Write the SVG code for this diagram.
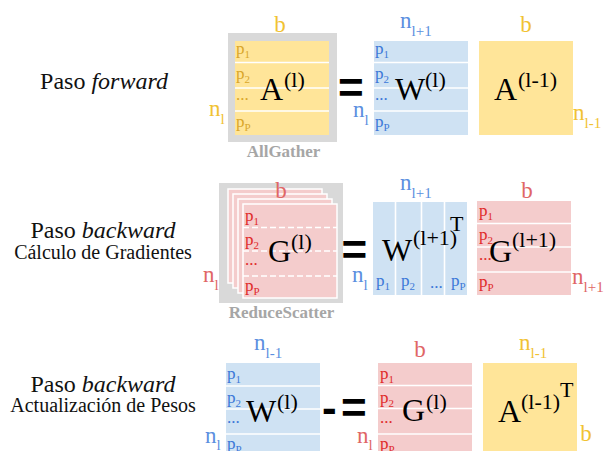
<svg xmlns="http://www.w3.org/2000/svg" width="606" height="451" viewBox="0 0 606 451">
<style>
text{font-family:"Liberation Serif","DejaVu Serif",serif;}
.ttl{font-size:24px;fill:#111;text-anchor:middle;}
.sub{font-size:20px;fill:#111;text-anchor:middle;}
.big{font-size:32px;fill:#000;}
.sup{font-size:22px;fill:#000;}
.lab{font-size:23px;}
.sb{font-size:15px;}
.p{font-size:17px;}
.ps{font-size:11px;}
.op{font-family:"Liberation Sans",Arial,sans-serif;font-weight:bold;font-size:44px;fill:#000;}
.coll{font-weight:bold;font-size:17px;fill:#a6a6a6;text-anchor:middle;}
.yl{fill:#f1c232;} .yp{fill:#d9a62a;}
.bl{fill:#5b8fe0;} .bp{fill:#3c78d8;}
.rl{fill:#e06666;} .rp{fill:#e02a2a;}
.fy{fill:#ffe599;} .fb{fill:#cfe2f3;} .fr{fill:#f4cccc;}
.frame{fill:#d9d9d9;}
.wl{stroke:#fff;stroke-width:1.6;fill:none;}
.wd{stroke:#fff;stroke-width:1.6;fill:none;stroke-dasharray:6 3;}
.sheet{fill:#f4cccc;stroke:#fff;stroke-width:1.5;}
</style>

<g id="labels">
<text class="ttl" x="104" y="89">Paso <tspan font-style="italic">forward</tspan></text>
<text class="ttl" x="103" y="238">Paso <tspan font-style="italic">backward</tspan></text>
<text class="sub" x="103" y="259">Cálculo de Gradientes</text>
<text class="ttl" x="103" y="392">Paso <tspan font-style="italic">backward</tspan></text>
<text class="sub" x="103" y="412">Actualización de Pesos</text>
</g>

<g id="connectors"></g>

<!-- Row 1 -->
<g id="A_l">
<rect class="frame" x="228" y="33" width="109" height="109"/>
<rect class="fy" x="235" y="41" width="94" height="94"/>
<line class="wl" x1="235" y1="62.5" x2="329" y2="62.5"/>
<line class="wl" x1="235" y1="88" x2="329" y2="88"/>
<line class="wl" x1="235" y1="111" x2="329" y2="111"/>
<text class="p yp" x="236" y="54">p<tspan class="ps" dy="4">1</tspan></text>
<text class="p yp" x="236" y="79">p<tspan class="ps" dy="4">2</tspan></text>
<text class="p yp" x="236" y="100">...</text>
<text class="p yp" x="236" y="127">p<tspan class="ps" dy="4">P</tspan></text>
<text class="big" x="260" y="100">A</text>
<text class="sup" x="284" y="87">(l)</text>
<text class="lab yl" x="280" y="32" text-anchor="middle">b</text>
<text class="lab yl" x="209" y="116">n<tspan class="sb" dy="8">l</tspan></text>
<text class="coll" x="283.5" y="157">AllGather</text>
</g>
<g id="eq1"><text class="op" x="338" y="103">=</text></g>
<g id="W_l_fwd">
<rect class="fb" x="374" y="41" width="94" height="94"/>
<line class="wl" x1="374" y1="62.5" x2="468" y2="62.5"/>
<line class="wl" x1="374" y1="88" x2="468" y2="88"/>
<line class="wl" x1="374" y1="111" x2="468" y2="111"/>
<text class="p bp" x="375" y="54">p<tspan class="ps" dy="4">1</tspan></text>
<text class="p bp" x="375" y="79">p<tspan class="ps" dy="4">2</tspan></text>
<text class="p bp" x="375" y="100">...</text>
<text class="p bp" x="375" y="127">p<tspan class="ps" dy="4">P</tspan></text>
<text class="big" x="395" y="100">W</text>
<text class="sup" x="425" y="87">(l)</text>
<text class="lab bl" x="400" y="28">n<tspan class="sb" dy="8">l+1</tspan></text>
<text class="lab bl" x="353" y="117">n<tspan class="sb" dy="8">l</tspan></text>
</g>
<g id="A_lm1">
<rect class="fy" x="479" y="41" width="94" height="94"/>
<text class="big" x="494" y="100">A</text>
<text class="sup" x="518" y="87">(l-1)</text>
<text class="lab yl" x="526" y="32" text-anchor="middle">b</text>
<text class="lab yl" x="573" y="120">n<tspan class="sb" dy="8">l-1</tspan></text>
</g>

<!-- Row 2 -->
<g id="G_l">
<rect class="frame" x="219" y="183" width="124" height="120"/>
<rect class="sheet" x="228" y="189" width="94" height="94"/>
<rect class="sheet" x="233" y="194" width="94" height="94"/>
<rect class="sheet" x="238" y="199" width="94" height="94"/>
<rect class="sheet" x="243" y="204" width="94" height="94"/>
<line class="wd" x1="243" y1="227.5" x2="337" y2="227.5"/>
<line class="wd" x1="243" y1="251" x2="337" y2="251"/>
<line class="wd" x1="243" y1="276" x2="337" y2="276"/>
<text class="p rp" x="245" y="221">p<tspan class="ps" dy="4">1</tspan></text>
<text class="p rp" x="245" y="245">p<tspan class="ps" dy="4">2</tspan></text>
<text class="p rp" x="245" y="265">...</text>
<text class="p rp" x="245" y="291">p<tspan class="ps" dy="4">P</tspan></text>
<text class="big" x="268" y="262">G</text>
<text class="sup" x="291" y="249">(l)</text>
<text class="lab rl" x="281" y="198" text-anchor="middle">b</text>
<text class="lab rl" x="203" y="282">n<tspan class="sb" dy="8">l</tspan></text>
<text class="coll" x="281.5" y="318">ReduceScatter</text>
</g>
<g id="eq2"><text class="op" x="341.5" y="265">=</text></g>
<g id="W_lp1_T">
<rect class="fb" x="373" y="202" width="94" height="93"/>
<line class="wl" x1="395.5" y1="202" x2="395.5" y2="295"/>
<line class="wl" x1="421.5" y1="202" x2="421.5" y2="295"/>
<line class="wl" x1="444.5" y1="202" x2="444.5" y2="295"/>
<text class="p bp" x="376" y="286">p<tspan class="ps" dy="4">1</tspan></text>
<text class="p bp" x="401" y="286">p<tspan class="ps" dy="4">2</tspan></text>
<text class="p bp" x="430" y="288">...</text>
<text class="p bp" x="451" y="286">p<tspan class="ps" dy="4">P</tspan></text>
<text class="big" x="382" y="261">W</text>
<text class="sup" x="413" y="245">(l+1)</text>
<text class="sup" x="450" y="231">T</text>
<text class="lab bl" x="400" y="190">n<tspan class="sb" dy="8">l+1</tspan></text>
<text class="lab bl" x="352" y="282">n<tspan class="sb" dy="8">l</tspan></text>
</g>
<g id="G_lp1">
<rect class="fr" x="477" y="201" width="94" height="94"/>
<line class="wl" x1="477" y1="223.5" x2="571" y2="223.5"/>
<line class="wl" x1="477" y1="247" x2="571" y2="247"/>
<line class="wl" x1="477" y1="272" x2="571" y2="272"/>
<text class="p rp" x="479" y="216">p<tspan class="ps" dy="4">1</tspan></text>
<text class="p rp" x="479" y="240">p<tspan class="ps" dy="4">2</tspan></text>
<text class="p rp" x="479" y="260">...</text>
<text class="p rp" x="479" y="287">p<tspan class="ps" dy="4">P</tspan></text>
<text class="big" x="489" y="262">G</text>
<text class="sup" x="512" y="247">(l+1)</text>
<text class="lab rl" x="527" y="198" text-anchor="middle">b</text>
<text class="lab rl" x="572" y="284">n<tspan class="sb" dy="8">l+1</tspan></text>
</g>

<!-- Row 3 -->
<g id="W_l_upd">
<rect class="fb" x="226" y="363" width="94" height="94"/>
<line class="wl" x1="226" y1="386" x2="320" y2="386"/>
<line class="wl" x1="226" y1="409" x2="320" y2="409"/>
<line class="wl" x1="226" y1="434" x2="320" y2="434"/>
<text class="p bp" x="227" y="379">p<tspan class="ps" dy="4">1</tspan></text>
<text class="p bp" x="227" y="403">p<tspan class="ps" dy="4">2</tspan></text>
<text class="p bp" x="227" y="423">...</text>
<text class="p bp" x="227" y="449">p<tspan class="ps" dy="4">P</tspan></text>
<text class="big" x="246" y="422">W</text>
<text class="sup" x="277" y="409">(l)</text>
<text class="lab bl" x="254" y="350">n<tspan class="sb" dy="8">l-1</tspan></text>
<text class="lab bl" x="205" y="443">n<tspan class="sb" dy="7">l</tspan></text>
</g>
<g id="eq3"><text class="op" y="423"><tspan x="322">-</tspan><tspan x="341">=</tspan></text></g>
<g id="G_l_upd">
<rect class="fr" x="378" y="363" width="94" height="94"/>
<line class="wl" x1="378" y1="385.5" x2="472" y2="385.5"/>
<line class="wl" x1="378" y1="408.5" x2="472" y2="408.5"/>
<line class="wl" x1="378" y1="434" x2="472" y2="434"/>
<text class="p rp" x="380" y="379">p<tspan class="ps" dy="4">1</tspan></text>
<text class="p rp" x="380" y="403">p<tspan class="ps" dy="4">2</tspan></text>
<text class="p rp" x="380" y="423">...</text>
<text class="p rp" x="380" y="449">p<tspan class="ps" dy="4">P</tspan></text>
<text class="big" x="402" y="421">G</text>
<text class="sup" x="426" y="409">(l)</text>
<text class="lab rl" x="420" y="357" text-anchor="middle">b</text>
<text class="lab rl" x="357" y="443">n<tspan class="sb" dy="7">l</tspan></text>
</g>
<g id="A_lm1_T">
<rect class="fy" x="483" y="363" width="94" height="94"/>
<text class="big" x="498" y="422">A</text>
<text class="sup" x="521" y="409">(l-1)</text>
<text class="sup" x="560" y="397">T</text>
<text class="lab yl" x="519" y="350">n<tspan class="sb" dy="8">l-1</tspan></text>
<text class="lab yl" x="586" y="441" text-anchor="middle">b</text>
</g>
</svg>
